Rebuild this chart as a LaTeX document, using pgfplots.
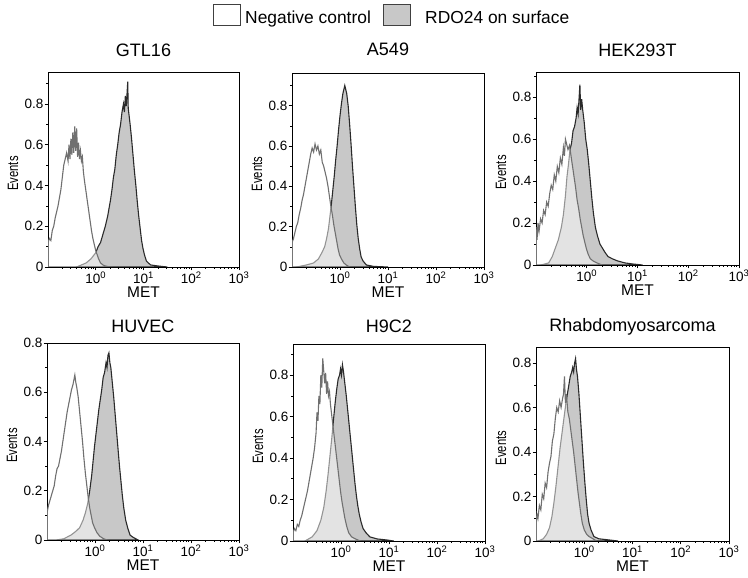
\documentclass[border=0pt]{standalone}
\usepackage{fontspec}
\setmainfont{Liberation Sans}
\usepackage{graphicx}
\usepackage{pgfplots}
\pgfplotsset{compat=1.18}
\definecolor{posfill}{HTML}{C8C8C8}
\definecolor{posline}{HTML}{2A2A2A}
\definecolor{negline}{HTML}{707070}
\pgfplotsset{flow/.style={
  scale only axis, anchor=south west, xmin=-1, xmax=3, ymin=0,
  axis line style={line width=0.8pt},
  tick align=outside, xtick pos=left, ytick pos=left,
  xtick={0,1,2,3},
  xticklabels={10\textsuperscript{0},10\textsuperscript{1},10\textsuperscript{2},10\textsuperscript{3}},
  minor xtick={-0.699,-0.523,-0.398,-0.301,-0.222,-0.155,-0.097,-0.046,
    0.301,0.477,0.602,0.699,0.778,0.845,0.903,0.954,
    1.301,1.477,1.602,1.699,1.778,1.845,1.903,1.954,
    2.301,2.477,2.602,2.699,2.778,2.845,2.903,2.954},
  ytick={0,0.2,0.4,0.6,0.8}, yticklabels={0,0.2,0.4,0.6,0.8},
  minor ytick={0.1,0.3,0.5,0.7,0.9},
  major tick length=3.5pt, minor tick length=2pt,
  every tick/.style={black, line width=0.6pt},
  tick label style={font=\fontsize{13.5}{15}\selectfont, inner sep=1pt},
  xlabel={MET}, ylabel={\scalebox{0.75}[1]{Events}},
  xlabel style={at={([yshift=-20pt]axis description cs:0.5,0)}, anchor=north, inner sep=0pt, font=\fontsize{15.5}{17}\selectfont},
  ylabel style={at={([xshift=-35pt, yshift=-4pt]axis description cs:0,0.5)}, anchor=center, inner sep=0pt, font=\fontsize{15}{17}\selectfont},
  title style={at={(axis description cs:0.5,1)}, anchor=base, font=\fontsize{18}{20}\selectfont},
},
pos/.style={fill=posfill, draw=posline, line width=1.1pt},
neg/.style={fill=white, fill opacity=0.5, draw=negline, draw opacity=1, line width=1.1pt},
}
\begin{document}
\begin{tikzpicture}[x=1pt,y=1pt]
\useasboundingbox (0,0) rectangle (748,578);

% ---------------- GTL16
\begin{axis}[flow, at={(48pt,311pt)}, width=191pt, height=195pt, ymax=0.957,
  title=GTL16, title style={yshift=9pt}]
\addplot[pos] table {
-0.40 0
-0.30 0.01
-0.20 0.02
-0.10 0.04
0.00 0.07
0.05 0.10
0.10 0.12
0.15 0.16
0.20 0.20
0.25 0.25
0.28 0.29
0.31 0.33
0.34 0.38
0.37 0.44
0.40 0.48
0.43 0.55
0.46 0.60
0.49 0.66
0.52 0.70
0.55 0.76
0.58 0.80
0.60 0.76
0.62 0.84
0.64 0.79
0.66 0.87
0.67 0.91
0.68 0.78
0.70 0.74
0.72 0.70
0.75 0.63
0.78 0.55
0.81 0.47
0.84 0.40
0.87 0.32
0.90 0.25
0.93 0.19
0.96 0.13
0.99 0.09
1.02 0.06
1.06 0.03
1.10 0.02
1.15 0.01
1.30 0.005
1.50 0
} \closedcycle;
\addplot[neg] table {
-1.00 0.12
-0.97 0.14
-0.94 0.13
-0.91 0.18
-0.88 0.20
-0.85 0.24
-0.82 0.27
-0.79 0.30
-0.76 0.34
-0.73 0.38
-0.70 0.44
-0.67 0.50
-0.64 0.53
-0.61 0.56
-0.58 0.52
-0.56 0.60
-0.54 0.53
-0.52 0.63
-0.50 0.55
-0.48 0.66
-0.46 0.56
-0.44 0.69
-0.42 0.57
-0.40 0.68
-0.38 0.54
-0.36 0.61
-0.34 0.53
-0.32 0.57
-0.30 0.52
-0.28 0.54
-0.26 0.47
-0.24 0.43
-0.21 0.38
-0.18 0.33
-0.15 0.28
-0.12 0.23
-0.09 0.18
-0.06 0.14
-0.03 0.11
0.00 0.08
0.03 0.06
0.06 0.04
0.10 0.02
0.15 0.01
0.20 0.005
0.30 0
} \closedcycle;
\end{axis}

% ---------------- A549
\begin{axis}[flow, at={(292pt,311pt)}, width=192pt, height=194pt, ymax=0.962,
  title=A549, title style={yshift=11pt}]
\addplot[pos] table {
-0.90 0
-0.70 0.01
-0.55 0.02
-0.45 0.04
-0.38 0.07
-0.32 0.10
-0.28 0.14
-0.24 0.19
-0.21 0.25
-0.18 0.31
-0.15 0.38
-0.12 0.45
-0.09 0.53
-0.06 0.60
-0.03 0.68
0.00 0.75
0.03 0.81
0.06 0.86
0.08 0.88
0.10 0.90
0.12 0.88
0.14 0.86
0.17 0.80
0.20 0.71
0.23 0.61
0.26 0.50
0.29 0.40
0.32 0.30
0.35 0.21
0.38 0.14
0.41 0.09
0.44 0.05
0.48 0.03
0.55 0.01
0.70 0.003
1.00 0
} \closedcycle;
\addplot[neg] table {
-1.00 0.12
-0.97 0.14
-0.94 0.17
-0.91 0.20
-0.88 0.22
-0.85 0.26
-0.82 0.29
-0.79 0.33
-0.76 0.36
-0.73 0.40
-0.70 0.44
-0.67 0.48
-0.64 0.52
-0.61 0.56
-0.58 0.59
-0.55 0.57
-0.52 0.61
-0.49 0.58
-0.46 0.60
-0.43 0.56
-0.40 0.58
-0.37 0.52
-0.34 0.50
-0.31 0.47
-0.28 0.44
-0.25 0.40
-0.22 0.35
-0.19 0.30
-0.16 0.26
-0.13 0.21
-0.10 0.17
-0.07 0.13
-0.04 0.09
-0.01 0.06
0.03 0.04
0.08 0.02
0.13 0.01
0.20 0
} \closedcycle;
\end{axis}

% ---------------- HEK293T
\begin{axis}[flow, at={(536pt,313pt)}, width=203pt, height=193pt, ymax=0.92,
  title=HEK293T, title style={yshift=9pt}]
\addplot[pos] table {
-0.90 0
-0.75 0.01
-0.68 0.04
-0.62 0.08
-0.56 0.12
-0.50 0.18
-0.46 0.24
-0.42 0.33
-0.39 0.42
-0.36 0.48
-0.33 0.55
-0.30 0.58
-0.27 0.64
-0.24 0.66
-0.21 0.70
-0.19 0.75
-0.17 0.72
-0.15 0.80
-0.135 0.86
-0.12 0.74
-0.10 0.79
-0.08 0.74
-0.05 0.68
-0.02 0.60
0.01 0.55
0.04 0.48
0.07 0.40
0.10 0.32
0.13 0.25
0.17 0.18
0.21 0.14
0.26 0.10
0.31 0.08
0.36 0.06
0.42 0.04
0.50 0.03
0.60 0.02
0.75 0.01
0.90 0.005
1.10 0
} \closedcycle;
\addplot[neg] table {
-1.00 0.18
-0.98 0.12
-0.96 0.20
-0.94 0.16
-0.91 0.22
-0.88 0.20
-0.85 0.26
-0.82 0.24
-0.79 0.30
-0.76 0.28
-0.73 0.34
-0.70 0.38
-0.67 0.36
-0.64 0.43
-0.61 0.40
-0.58 0.47
-0.55 0.44
-0.52 0.51
-0.49 0.48
-0.46 0.56
-0.44 0.52
-0.42 0.60
-0.40 0.58
-0.37 0.55
-0.34 0.57
-0.31 0.52
-0.28 0.47
-0.25 0.42
-0.22 0.37
-0.19 0.31
-0.16 0.27
-0.13 0.22
-0.10 0.18
-0.07 0.14
-0.04 0.11
-0.01 0.08
0.03 0.05
0.07 0.03
0.12 0.02
0.20 0.01
0.30 0
} \closedcycle;
\end{axis}

% ---------------- HUVEC
\begin{axis}[flow, at={(47pt,38pt)}, width=192pt, height=197pt, ymax=0.8,
  title=HUVEC, title style={yshift=4pt}]
\addplot[pos] table {
-0.80 0
-0.65 0.005
-0.50 0.02
-0.40 0.035
-0.32 0.05
-0.25 0.08
-0.20 0.11
-0.15 0.15
-0.11 0.20
-0.07 0.26
-0.04 0.32
-0.01 0.38
0.02 0.43
0.05 0.48
0.08 0.53
0.11 0.57
0.14 0.61
0.17 0.66
0.20 0.68
0.23 0.72
0.25 0.70
0.27 0.75
0.29 0.76
0.31 0.72
0.33 0.70
0.36 0.64
0.39 0.58
0.42 0.51
0.45 0.44
0.48 0.37
0.51 0.30
0.54 0.24
0.57 0.18
0.60 0.13
0.64 0.08
0.68 0.05
0.73 0.02
0.80 0.01
0.90 0
} \closedcycle;
\addplot[neg] table {
-1.00 0.11
-0.97 0.14
-0.94 0.16
-0.91 0.18
-0.88 0.20
-0.85 0.22
-0.82 0.26
-0.79 0.29
-0.76 0.30
-0.73 0.33
-0.70 0.36
-0.67 0.40
-0.64 0.44
-0.61 0.48
-0.58 0.52
-0.55 0.55
-0.52 0.58
-0.49 0.61
-0.46 0.63
-0.44 0.65
-0.42 0.67
-0.40 0.64
-0.38 0.62
-0.35 0.58
-0.32 0.52
-0.29 0.46
-0.26 0.40
-0.23 0.33
-0.20 0.27
-0.17 0.22
-0.14 0.17
-0.11 0.13
-0.08 0.10
-0.05 0.07
-0.01 0.05
0.04 0.03
0.10 0.015
0.18 0.005
0.25 0
} \closedcycle;
\end{axis}

% ---------------- H9C2
\begin{axis}[flow, at={(293pt,37pt)}, width=192pt, height=197pt, ymax=0.95,
  title=H9C2, title style={yshift=5pt}]
\addplot[pos] table {
-0.75 0
-0.60 0.02
-0.50 0.05
-0.42 0.10
-0.36 0.16
-0.31 0.24
-0.27 0.32
-0.23 0.41
-0.19 0.50
-0.15 0.60
-0.12 0.67
-0.09 0.73
-0.06 0.78
-0.03 0.80
-0.01 0.83
0.01 0.80
0.03 0.85
0.05 0.82
0.08 0.76
0.11 0.70
0.14 0.63
0.17 0.56
0.20 0.49
0.23 0.42
0.26 0.35
0.29 0.28
0.32 0.22
0.35 0.17
0.38 0.13
0.42 0.09
0.46 0.06
0.52 0.04
0.60 0.02
0.75 0.01
0.95 0.005
1.10 0
} \closedcycle;
\addplot[neg] table {
-1.00 0.04
-0.97 0.06
-0.94 0.05
-0.91 0.08
-0.88 0.07
-0.85 0.10
-0.82 0.12
-0.79 0.15
-0.76 0.18
-0.73 0.21
-0.70 0.24
-0.67 0.28
-0.64 0.32
-0.61 0.36
-0.58 0.40
-0.55 0.45
-0.52 0.52
-0.50 0.62
-0.48 0.58
-0.46 0.70
-0.44 0.66
-0.42 0.80
-0.40 0.74
-0.38 0.88
-0.36 0.82
-0.34 0.76
-0.32 0.81
-0.30 0.71
-0.28 0.77
-0.26 0.70
-0.24 0.72
-0.22 0.66
-0.19 0.60
-0.16 0.54
-0.13 0.48
-0.10 0.42
-0.07 0.36
-0.04 0.30
-0.01 0.24
0.02 0.19
0.05 0.15
0.08 0.11
0.12 0.07
0.16 0.04
0.22 0.02
0.30 0.01
0.40 0
} \closedcycle;
\end{axis}

% ---------------- Rhabdomyosarcoma
\begin{axis}[flow, at={(536pt,37pt)}, width=193pt, height=194pt, ymax=0.872,
  title=Rhabdomyosarcoma, title style={yshift=9pt}]
\addplot[pos] table {
-0.95 0
-0.85 0.01
-0.78 0.03
-0.72 0.06
-0.67 0.11
-0.63 0.17
-0.59 0.24
-0.56 0.30
-0.53 0.36
-0.50 0.42
-0.47 0.47
-0.44 0.52
-0.41 0.57
-0.38 0.62
-0.35 0.66
-0.32 0.70
-0.29 0.74
-0.26 0.76
-0.24 0.78
-0.22 0.76
-0.20 0.80
-0.18 0.82
-0.16 0.77
-0.14 0.74
-0.11 0.66
-0.08 0.56
-0.05 0.46
-0.02 0.36
0.01 0.27
0.04 0.19
0.07 0.12
0.10 0.08
0.14 0.05
0.20 0.02
0.30 0.01
0.50 0.005
0.70 0
} \closedcycle;
\addplot[neg] table {
-1.00 0.08
-0.98 0.12
-0.96 0.10
-0.93 0.16
-0.90 0.14
-0.87 0.21
-0.84 0.19
-0.81 0.26
-0.78 0.24
-0.75 0.31
-0.72 0.35
-0.69 0.38
-0.66 0.45
-0.63 0.48
-0.60 0.55
-0.57 0.60
-0.54 0.58
-0.51 0.63
-0.48 0.60
-0.45 0.64
-0.43 0.66
-0.41 0.74
-0.39 0.62
-0.37 0.66
-0.34 0.58
-0.31 0.55
-0.28 0.50
-0.25 0.45
-0.22 0.40
-0.19 0.34
-0.16 0.28
-0.13 0.22
-0.10 0.17
-0.07 0.12
-0.04 0.08
0.00 0.05
0.05 0.03
0.10 0.02
0.18 0.01
0.25 0
} \closedcycle;
\end{axis}

% ---------------- legend
\draw[line width=0.9pt, draw=black!75, fill=white] (213,553) rectangle (240,574);
\node[anchor=base west, inner sep=0pt, font=\fontsize{17.4}{19}\selectfont] at (245,554) {Negative control};
\draw[line width=0.9pt, draw=black!75, fill=posfill] (383,553) rectangle (410,574);
\node[anchor=base west, inner sep=0pt, font=\fontsize{17.4}{19}\selectfont] at (425,554) {RDO24 on surface};
\end{tikzpicture}
\end{document}
